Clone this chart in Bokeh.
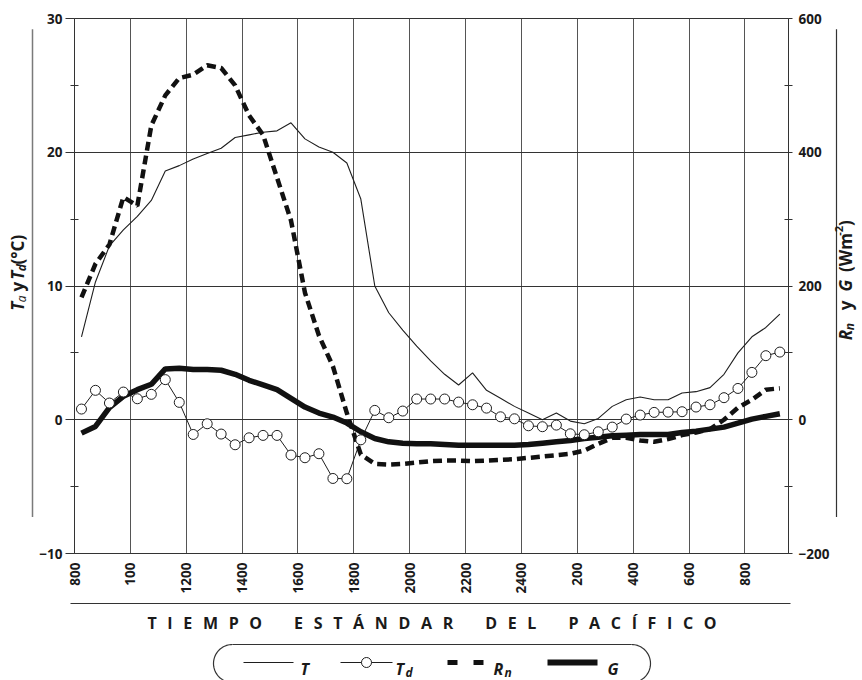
import math
from bokeh.plotting import figure
from bokeh.models import Range1d, LinearAxis, FixedTicker
from bokeh.layouts import column, row
from bokeh.core.properties import value
from bokeh.embed import file_html
from bokeh.resources import INLINE

# ---------------- data ----------------
hours = [8.25, 8.75, 9.25, 9.75, 10.25, 10.75, 11.25, 11.75, 12.25, 12.75,
         13.25, 13.75, 14.25, 14.75, 15.25, 15.75, 16.25, 16.75, 17.25, 17.75,
         18.25, 18.75, 19.25, 19.75, 20.25, 20.75, 21.25, 21.75, 22.25, 22.75,
         23.25, 23.75, 24.25, 24.75, 25.25, 25.75, 26.25, 26.75, 27.25, 27.75,
         28.25, 28.75, 29.25, 29.75, 30.25, 30.75, 31.25, 31.75, 32.25, 32.75,
         33.25]

temp_air = [6.2, 10.3, 13.0, 14.2, 15.2, 16.4, 18.6, 19.0, 19.5, 19.9,
            20.3, 21.1, 21.3, 21.5, 21.6, 22.2, 21.0, 20.4, 20.0, 19.2,
            16.5, 10.0, 8.0, 6.7, 5.5, 4.4, 3.4, 2.6, 3.5, 2.2,
            1.6, 1.0, 0.5, 0.0, 0.5, -0.1, -0.3, 0.1, 1.0, 1.5,
            1.7, 1.5, 1.5, 2.0, 2.1, 2.4, 3.4, 5.0, 6.2, 6.9,
            7.9]

temp_dew = [0.8, 2.2, 1.25, 2.07, 1.57, 1.9, 3.0, 1.3, -1.1, -0.3,
            -1.07, -1.87, -1.35, -1.17, -1.17, -2.64, -2.84, -2.54, -4.39, -4.41,
            -1.5, 0.7, 0.15, 0.65, 1.55, 1.55, 1.55, 1.32, 1.12, 0.87,
            0.22, 0.07, -0.45, -0.52, -0.4, -1.05, -1.12, -0.9, -0.55, 0.05,
            0.35, 0.55, 0.57, 0.6, 0.95, 1.12, 1.65, 2.34, 3.54, 4.79,
            5.06]

net_rad = [183, 233, 262, 333, 320, 440, 485, 511, 516, 530,
           526, 500, 455, 426, 362, 298, 190, 126, 80, 10,
           -52, -66, -67, -66, -64, -62, -61, -61, -62, -61,
           -60, -59, -57, -55, -53, -51, -46, -36, -27, -27,
           -31, -33, -29, -23, -19, -14, 0, 18, 30, 45,
           47]

soil_flux = [-20, -10, 18, 35, 45, 53, 76, 77, 75, 75,
             74, 68, 59, 52, 45, 32, 19, 10, 4, -5,
             -18, -28, -33, -35, -36, -36, -37, -38, -38, -38,
             -38, -38, -37, -35, -33, -31, -28, -26, -24, -23,
             -22, -22, -22, -19, -17, -14, -11, -5, 1, 5,
             9]

x_ticks = [8, 10, 12, 14, 16, 18, 20, 22, 24, 26, 28, 30, 32]
x_tick_labels = ["800", "100", "1200", "1400", "1600", "1800", "2000",
                 "2200", "2400", "200", "400", "600", "800"]
t_ticks = [-10, 0, 10, 20, 30]
t_minor = [-5, 5, 15, 25]
flux_ticks = [-200, 0, 200, 400, 600]
flux_minor = [-100, 100, 300, 500]

x_title = "TIEMPO ESTÁNDAR DEL PACÍFICO"
legend_names = ["T", "Td", "Rn", "G"]

# ---------------- layout constants (page pixels) ----------------
FONT = "Open Sans"
INK = "#1a1a1a"
NB = "\u00a0"
PW, PH = 862, 680
X0, X1 = 8, 33.56
Y0, Y1 = -10, 30
FL, FT, FR, FB = 73, 18, 790, 553      # plot frame edges
LS, RS, TOP_H = 36, 832, 600           # left strip | main | right strip ; top row height


def Y(py):
    """page y (down) -> strip data y (up)"""
    return PH - py


def strip(x0, x1, y0, y1):
    f = figure(width=x1 - x0, height=y1 - y0, x_range=Range1d(x0, x1),
               y_range=Range1d(Y(y1), Y(y0)), output_backend="svg",
               toolbar_location=None, min_border=0, x_axis_location=None,
               y_axis_location=None, outline_line_color=None)
    f.grid.visible = False
    return f


# ---------------- main chart ----------------
p = figure(width=RS - LS, height=TOP_H, x_range=Range1d(X0, X1), y_range=Range1d(Y0, Y1),
           output_backend="svg", toolbar_location=None,
           min_border_left=FL - LS, min_border_right=RS - FR,
           min_border_top=FT, min_border_bottom=TOP_H - FB)
p.extra_y_ranges = {"flux": Range1d(-200, 600)}
p.outline_line_color = "#333333"


def style_axis(ax):
    ax.axis_line_color = "#333333"
    ax.major_tick_line_color = "#333333"
    ax.minor_tick_line_color = "#333333"
    ax.major_label_text_font = FONT
    ax.major_label_text_font_size = "13.5px"
    ax.major_label_text_font_style = "bold"
    ax.major_label_text_color = INK


xa = p.xaxis[0]
xa.ticker = FixedTicker(ticks=x_ticks)
xa.major_label_overrides = dict(zip(x_ticks, x_tick_labels))
xa.major_label_orientation = math.pi / 2
xa.major_tick_out = 0
xa.major_tick_in = 0
xa.minor_tick_out = 0
xa.minor_tick_in = 0
xa.major_label_standoff = 9
style_axis(xa)

ya = p.yaxis[0]
ya.ticker = FixedTicker(ticks=t_ticks, minor_ticks=t_minor)
ya.major_tick_out = 9
ya.major_tick_in = 0
ya.minor_tick_out = 4
ya.minor_tick_in = 4
ya.major_label_standoff = 3
style_axis(ya)

ra = LinearAxis(y_range_name="flux", ticker=FixedTicker(ticks=flux_ticks, minor_ticks=flux_minor))
ra.major_tick_out = 4
ra.major_tick_in = 0
ra.minor_tick_out = 4
ra.minor_tick_in = 4
ra.major_label_standoff = 6
style_axis(ra)
p.add_layout(ra, "right")

p.xgrid.grid_line_color = "#555555"
p.ygrid.grid_line_color = "#333333"

p.line(hours, temp_air, line_width=1.1, line_color="#1e1e1e")
p.line(hours, temp_dew, line_width=1, line_color="#1e1e1e")
p.line(hours, net_rad, y_range_name="flux", line_width=4.5, line_dash="9 5",
       line_color="#111111")
p.line(hours, soil_flux, y_range_name="flux", line_width=5.5, line_color="#111111")
p.scatter(hours, temp_dew, marker="circle", size=10, fill_color="white",
          line_color="#1e1e1e", line_width=1)

# ---------------- text helpers ----------------
ADV = {'T': 0.56, 'a': 0.59, 'y': 0.55, ' ': 0.26, NB: 0.26, 'd': 0.635, '(': 0.34,
       ')': 0.34, '°': 0.43, 'C': 0.63, 'R': 0.66, 'n': 0.635, 'G': 0.71, 'W': 1.0,
       'm': 0.97, '-': 0.32, '2': 0.57}


def tw(text, size):
    return sum(ADV.get(c, 0.6) for c in text) * size


def put_text(f, x, py, t, size, style, angle=0.0, align="left"):
    f.text(x=[x], y=[Y(py)], text=[t], angle=angle, text_font=value(FONT),
           text_font_size=f"{size}px", text_font_style=style, text_color=INK,
           text_align=align, text_baseline="alphabetic")


def vertical_label(f, pieces, base_x, center_py):
    total = sum(tw(t, s) + g for t, s, _, _, g in pieces)
    py = center_py + total / 2
    for t, s, style, shift, gap in pieces:
        put_text(f, base_x + shift, py, t, s, style, angle=math.pi / 2)
        py -= tw(t, s) + gap


# ---------------- left strip ----------------
left = strip(0, LS, 0, TOP_H)
left.line([32, 32], [Y(12), Y(559)], line_color="#7a7a7a", line_width=1.5)
vertical_label(left, [("T", 17, "bold italic", 0, 0), ("a", 12, "italic", 3.5, 0),
                      (NB + "y" + NB, 17, "bold", 0, 0), ("T", 17, "bold italic", 0, 0),
                      ("d", 12, "bold italic", 3.5, 0), ("(°C)", 17, "bold", 0, 0)],
               base_x=17, center_py=287)

# ---------------- right strip ----------------
right = strip(RS, PW, 0, TOP_H)
right.line([836, 836], [Y(12), Y(559)], line_color="#333333", line_width=1.2)
vertical_label(right, [("R", 17, "bold italic", 0, 0), ("n", 12, "bold italic", 3.5, 0),
                       (NB * 3 + "y" + NB * 3, 17, "bold", 0, 0),
                       ("G", 17, "bold italic", 0, 0),
                       (NB * 2 + "(Wm", 17, "bold", 0, 2.5), ("-2", 11, "bold", -7, 1),
                       (")", 17, "bold", 0, 0)],
               base_x=845, center_py=294)

# ---------------- bottom strip: title + legend ----------------
bot = strip(0, PW, TOP_H, PH)
bot.line([70, 790], [Y(603), Y(603)], line_color="#333333", line_width=1.2)
words = x_title.split(" ")
spaced = "\u2003\u2003".join("\u2002\u2009".join(list(w)) for w in words)
put_text(bot, 431.5, 622, spaced, 16, "bold", align="center")

top, cy, r, lx, rx = 644, 663, 19, 232, 631
n = 40
arc_x_l = [lx - r * math.sin(math.pi * i / n) for i in range(n + 1)]
arc_x_r = [rx + r * math.sin(math.pi * i / n) for i in range(n + 1)]
arc_y = [Y(cy - r * math.cos(math.pi * i / n)) for i in range(n + 1)]
bot.line(arc_x_l, arc_y, line_color="#333333", line_width=1.2)
bot.line(arc_x_r, arc_y, line_color="#333333", line_width=1.2)
bot.line([lx, rx], [Y(top), Y(top)], line_color="#333333", line_width=1.2)
bot.line([lx, rx], [Y(cy + r), Y(cy + r)], line_color="#333333", line_width=1.2)

ly = Y(662)
bot.line([243, 293], [ly, ly], line_color="#1e1e1e", line_width=1.1)
bot.line([340, 392], [ly, ly], line_color="#1e1e1e", line_width=1)
bot.scatter([366], [ly], marker="circle", size=10, fill_color="white",
            line_color="#1e1e1e", line_width=1)
bot.line([447, 483], [ly, ly], line_color="#111111", line_width=5, line_dash="10 16")
bot.line([547, 597], [ly, ly], line_color="#111111", line_width=6)

put_text(bot, 300, 668, legend_names[0], 16, "bold italic")
put_text(bot, 395, 668, legend_names[1][0], 16, "bold italic")
put_text(bot, 405, 672, legend_names[1][1], 12, "bold italic")
put_text(bot, 493, 668, legend_names[2][0], 16, "bold italic")
put_text(bot, 504, 672, legend_names[2][1], 12, "bold italic")
put_text(bot, 607, 668, legend_names[3], 16, "bold italic")

layout = column(row(left, p, right, spacing=0), bot, spacing=0)
open("out.html", "w").write(file_html(layout, INLINE))
